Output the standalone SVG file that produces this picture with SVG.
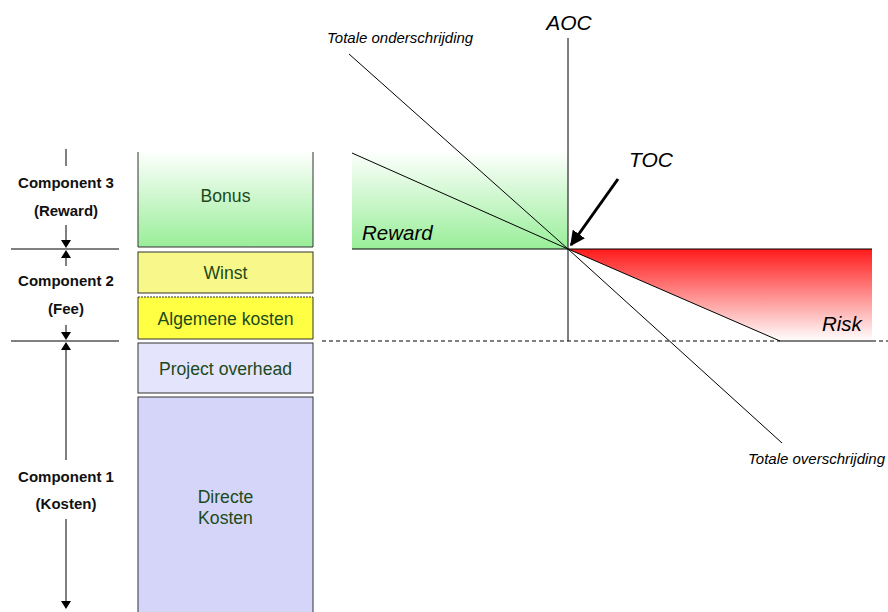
<svg xmlns="http://www.w3.org/2000/svg" width="888" height="612" viewBox="0 0 888 612">
<defs>
<linearGradient id="gGreen" x1="0" y1="0" x2="0" y2="1"><stop offset="0" stop-color="#ffffff"/><stop offset="1" stop-color="#99ee99"/></linearGradient>
<linearGradient id="gRed" x1="0" y1="0" x2="0" y2="1"><stop offset="0" stop-color="#ff1a1a"/><stop offset="1" stop-color="#ffffff"/></linearGradient>
<marker id="ah" viewBox="0 0 10 10" refX="9" refY="5" markerWidth="5" markerHeight="5" orient="auto" markerUnits="strokeWidth"><path d="M0,0 L10,5 L0,10 z" fill="#000"/></marker>
</defs>
<style>
.box{stroke:#333;stroke-width:1}
.bt{font-family:"Liberation Sans",Arial,sans-serif;font-size:17.6px;fill:#1b4a1b;text-anchor:middle}
.ct{font-family:"Liberation Sans",Arial,sans-serif;font-size:15px;font-weight:bold;fill:#111;text-anchor:middle}
.it{font-family:"Liberation Sans",Arial,sans-serif;font-style:italic;fill:#000}
.ln{stroke:#000;stroke-width:1;fill:none}
.tri{fill:#000}
</style>
<rect width="888" height="612" fill="#fff"/>

<!-- chart backgrounds -->
<rect x="352" y="150" width="216" height="99" fill="url(#gGreen)"/>
<polygon points="568,249 872,249 872,341 780,341" fill="url(#gRed)"/>

<g id="connectors">
<!-- left dimension line -->
<line class="ln" x1="66" y1="149" x2="66" y2="166"/>
<line class="ln" x1="66" y1="225" x2="66" y2="242"/>
<polygon class="tri" points="61,240 71,240 66,248"/>
<line class="ln" x1="11" y1="249" x2="119" y2="249"/>
<polygon class="tri" points="66,250 61,258 71,258"/>
<line class="ln" x1="66" y1="256" x2="66" y2="266"/>
<line class="ln" x1="66" y1="325" x2="66" y2="334"/>
<polygon class="tri" points="61,332 71,332 66,340"/>
<line class="ln" x1="11" y1="341" x2="119" y2="341"/>
<polygon class="tri" points="66,342 61,350 71,350"/>
<line class="ln" x1="66" y1="348" x2="66" y2="460"/>
<line class="ln" x1="66" y1="519" x2="66" y2="603"/>
<polygon class="tri" points="61,601 71,601 66,609"/>

<!-- chart lines -->
<line class="ln" x1="322" y1="341" x2="780" y2="341" stroke-dasharray="4,3"/>
<line class="ln" x1="872" y1="341" x2="888" y2="341" stroke="#999" stroke-dasharray="4,3"/>
<line class="ln" x1="780" y1="341" x2="872" y2="341"/>
<line class="ln" x1="352" y1="249" x2="872" y2="249"/>
<line class="ln" x1="568" y1="38" x2="568" y2="341"/>
<line class="ln" x1="349" y1="54" x2="568" y2="249"/>
<line class="ln" x1="352" y1="153" x2="568" y2="249"/>
<line class="ln" x1="568" y1="249" x2="780" y2="341"/>
<line class="ln" x1="568" y1="249" x2="782" y2="443"/>
<line x1="618" y1="179" x2="571" y2="245" stroke="#000" stroke-width="3" marker-end="url(#ah)"/>
</g>

<!-- stacked boxes -->
<g id="bonus">
<rect x="138" y="150" width="175" height="97" fill="url(#gGreen)"/>
<path class="box" d="M138,152 V247 H313 V152" fill="none"/>
<text class="bt" x="225.5" y="202">Bonus</text>
</g>
<g id="winst">
<rect class="box" x="138" y="252" width="175" height="41" fill="#f8f88a"/>
<text class="bt" x="225.5" y="279">Winst</text>
</g>
<g id="algemene">
<rect x="138" y="297" width="175" height="42" fill="#ffff44"/>
<path class="box" d="M138,297 V339 H313 V297" fill="none"/>
<line class="box" x1="138" y1="297" x2="313" y2="297" stroke-dasharray="2,1"/>
<text class="bt" x="225.5" y="325">Algemene kosten</text>
</g>
<g id="overhead">
<rect class="box" x="138" y="343" width="175" height="50" fill="#e4e4fc"/>
<text class="bt" x="225.5" y="375">Project overhead</text>
</g>
<g id="directe">
<rect class="box" x="138" y="397" width="175" height="220" fill="#d5d5fa"/>
<text class="bt" x="225.5" y="503">Directe</text>
<text class="bt" x="225.5" y="524">Kosten</text>
</g>

<!-- component labels -->
<g id="comp3">
<text class="ct" x="66" y="188">Component 3</text>
<text class="ct" x="66" y="216">(Reward)</text>
</g>
<g id="comp2">
<text class="ct" x="66" y="286">Component 2</text>
<text class="ct" x="66" y="314">(Fee)</text>
</g>
<g id="comp1">
<text class="ct" x="66" y="482">Component 1</text>
<text class="ct" x="66" y="509">(Kosten)</text>
</g>

<!-- chart labels -->
<g id="labels">
<text class="it" x="569" y="30" font-size="21" text-anchor="middle">AOC</text>
<text class="it" x="651" y="167" font-size="21" text-anchor="middle">TOC</text>
<text class="it" x="362" y="240" font-size="20.5">Reward</text>
<text class="it" x="822" y="331" font-size="20.5">Risk</text>
<text class="it" x="327" y="43" font-size="15">Totale onderschrijding</text>
<text class="it" x="748" y="464" font-size="15">Totale overschrijding</text>
</g>
</svg>
